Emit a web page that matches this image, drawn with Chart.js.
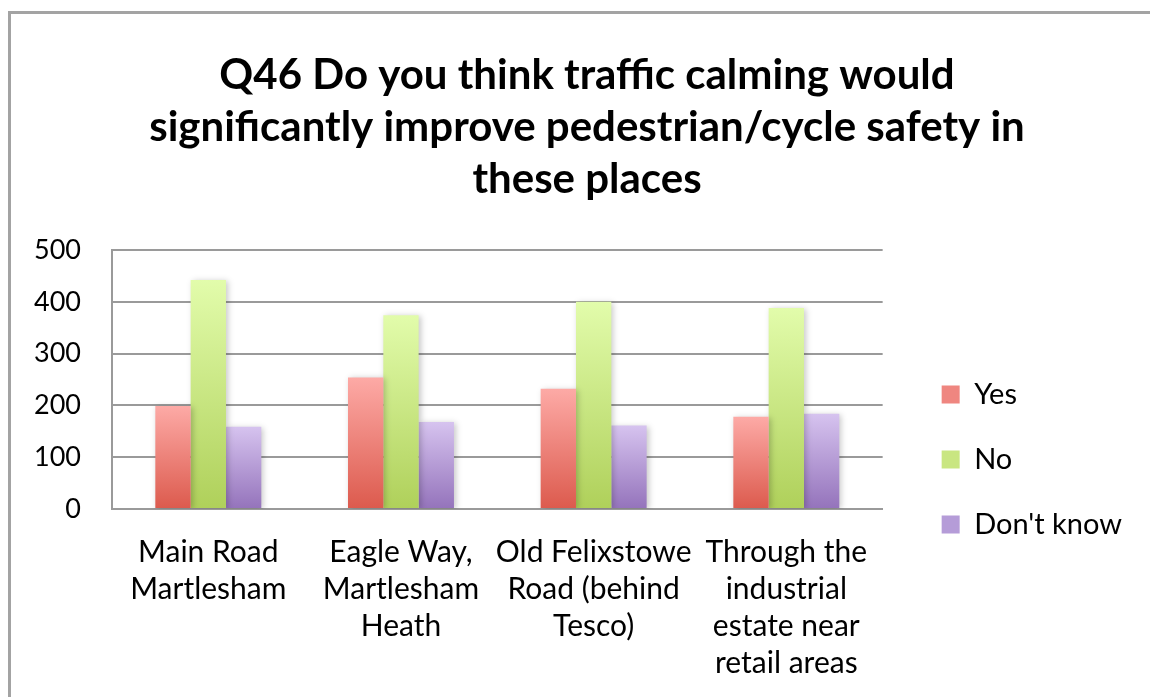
<!DOCTYPE html>
<html>
<head>
<meta charset="utf-8">
<script src="https://cdn.jsdelivr.net/npm/chart.js@4.4.1/dist/chart.umd.min.js"></script>
<style>
  html, body { margin: 0; padding: 0; background: #fff; overflow: hidden; width: 1150px; height: 697px; }
  #frame { position: absolute; left: 8px; top: 11px; width: 1300px; height: 900px; border: 3px solid #a3a3a3; box-sizing: border-box; }
  #wrap { position: absolute; left: 0; top: 0; width: 1150px; height: 707px; }
</style>
</head>
<body>
<div id="frame"></div>
<div id="wrap"><canvas id="c" width="1150" height="707"></canvas></div>
<script>
const titleLines = ['Q46 Do you think traffic calming would', 'significantly improve pedestrian/cycle safety in', 'these places'];
const categories = [
  ['Main Road', 'Martlesham'],
  ['Eagle Way,', 'Martlesham', 'Heath'],
  ['Old Felixstowe', 'Road (behind', 'Tesco)'],
  ['Through the', 'industrial', 'estate near', 'retail areas']
];
const seriesNames = ['Yes', 'No', "Don't know"];
const yesValues = [199, 254, 232, 178];
const noValues = [442, 374, 400, 388];
const dontKnowValues = [159, 168, 161, 184];
const yTicks = [0, 100, 200, 300, 400, 500];

const palette = [
  { top: '#fdaaa6', bottom: '#dc5a4d', mid: '#ef8680' },
  { top: '#e2fcab', bottom: '#afd05a', mid: '#c9e681' },
  { top: '#d6c3ef', bottom: '#9473bb', mid: '#b59cd8' }
];

function gradientFill(p) {
  return (ctx) => {
    const chart = ctx.chart;
    if (!chart.chartArea || ctx.type !== 'data' || !chart.scales.y) return p.mid;
    const y = chart.scales.y;
    const yTop = y.getPixelForValue(ctx.raw);
    const yBot = y.getPixelForValue(0);
    if (!isFinite(yTop) || !isFinite(yBot) || yTop === yBot) return p.mid;
    const g = chart.ctx.createLinearGradient(0, yTop, 0, yBot);
    g.addColorStop(0, p.top);
    g.addColorStop(1, p.bottom);
    return g;
  };
}

const shadowPlugin = {
  id: 'barShadow',
  beforeDatasetsDraw(chart) {
    const c = chart.ctx;
    c.save();
    c.shadowColor = 'rgba(0,0,0,0.22)';
    c.shadowBlur = 6;
    c.shadowOffsetX = 2;
    c.shadowOffsetY = 1;
  },
  afterDatasetsDraw(chart) { chart.ctx.restore(); }
};

const boxShift = {
  id: 'boxShift',
  afterLayout(chart) {
    const lg = chart.legend;
    if (lg) { lg.left += 23; lg.right += 23; lg.top += 96; lg.bottom += 96; }
    const tb = chart.titleBlock;
    if (tb) { tb.left += 31; tb.right += 31; }
  }
};

function build() {
  const values = [yesValues, noValues, dontKnowValues];
  new Chart(document.getElementById('c'), {
    type: 'bar',
    data: {
      labels: categories,
      datasets: seriesNames.map((name, i) => ({
        label: name,
        data: values[i],
        backgroundColor: gradientFill(palette[i]),
        borderWidth: 0,
        categoryPercentage: 0.55,
        barPercentage: 1.0
      }))
    },
    plugins: [shadowPlugin, boxShift],
    options: {
      responsive: false,
      animation: false,
      devicePixelRatio: 1,
      layout: { padding: { top: 20, left: 3, right: 41, bottom: 0 } },
      plugins: {
        tooltip: { enabled: false },
        title: {
          display: true,
          text: titleLines,
          color: '#000',
          font: { family: 'Lato', size: 42, weight: 'bold', lineHeight: '52px' },
          padding: { top: 29, bottom: 45 }
        },
        legend: {
          position: 'right',
          labels: {
            color: '#000',
            font: { family: 'Lato', size: 29 },
            boxWidth: 18,
            boxHeight: 18,
            padding: 36,
            generateLabels(chart) {
              return chart.data.datasets.map((ds, i) => ({
                text: ds.label,
                fillStyle: palette[i].mid,
                strokeStyle: palette[i].mid,
                lineWidth: 0,
                hidden: false,
                datasetIndex: i,
                fontColor: '#000'
              }));
            }
          }
        }
      },
      scales: {
        x: {
          grid: { display: false, drawTicks: false },
          border: { display: true, color: '#9a9a9a', width: 2 },
          ticks: {
            color: '#000',
            font: { family: 'Lato', size: 30, lineHeight: '37px' },
            padding: 25,
            maxRotation: 0,
            autoSkip: false
          }
        },
        y: {
          min: 0,
          max: 500,
          afterBuildTicks(axis) { axis.ticks = yTicks.map(v => ({ value: v })); },
          grid: { color: '#9a9a9a', lineWidth: 2, drawTicks: false },
          border: { display: true, color: '#9a9a9a', width: 2 },
          ticks: {
            color: '#000',
            font: { family: 'Lato', size: 27 },
            padding: 31
          }
        }
      }
    }
  });
}

Promise.all([
  document.fonts.load('bold 42px Lato'),
  document.fonts.load('30px Lato')
]).then(build, build);
</script>
</body>
</html>
